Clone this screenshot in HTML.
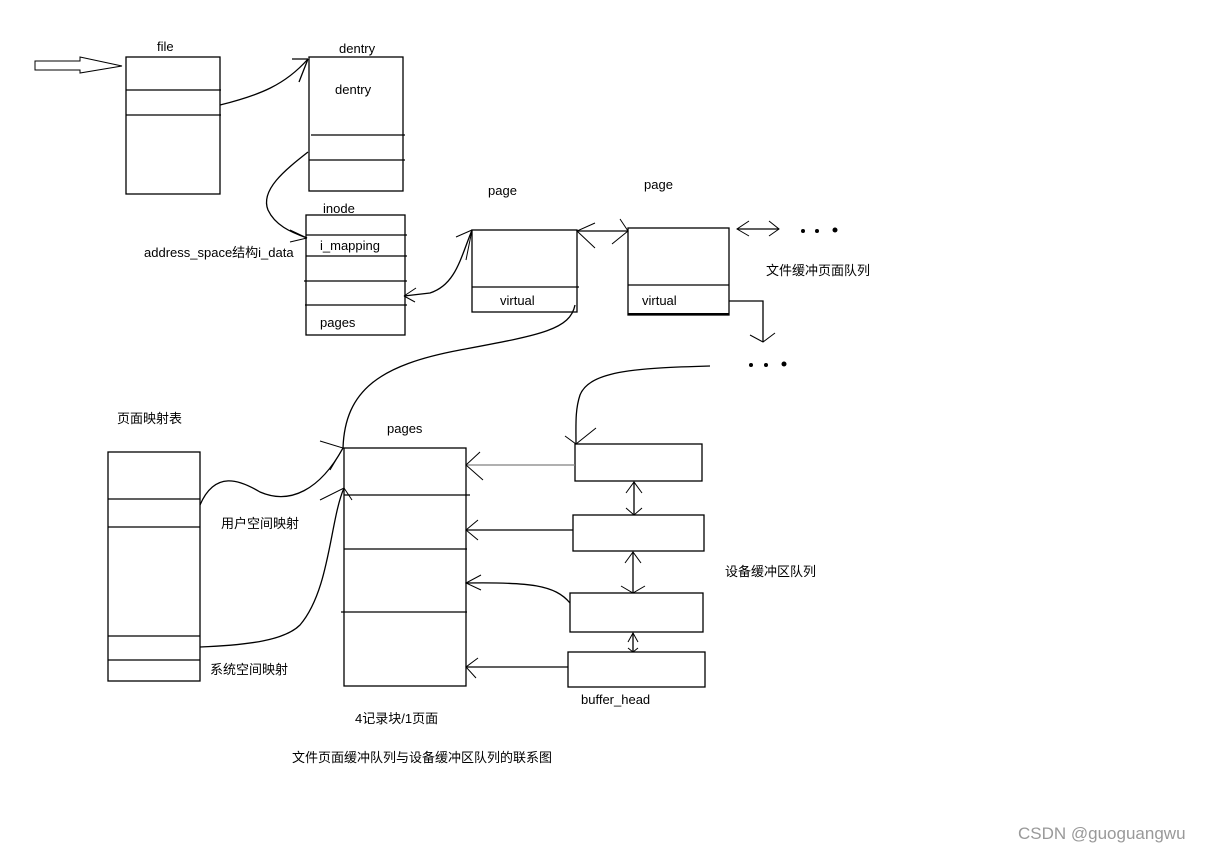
<!DOCTYPE html>
<html><head><meta charset="utf-8"><style>
html,body{margin:0;padding:0;background:#fff}
svg text{font-family:"Liberation Sans","Noto Sans CJK SC",sans-serif;font-size:13px;fill:#000}
</style></head><body>
<svg width="1220" height="853" viewBox="0 0 1220 853" xmlns="http://www.w3.org/2000/svg">
<g fill="none" stroke="#000" stroke-width="1.3">
<!-- hollow arrow -->
<polygon points="35,61 80,61 80,57 122,66 80,73 80,70 35,70" stroke-width="1"/>
<!-- file -->
<rect x="126" y="57" width="94" height="137"/>
<line x1="126" y1="90" x2="221" y2="90"/><line x1="126" y1="115" x2="221" y2="115"/>
<!-- dentry -->
<rect x="309" y="57" width="94" height="134"/>
<line x1="311" y1="135" x2="405" y2="135"/><line x1="309" y1="160" x2="405" y2="160"/>
<path d="M220,105 C260,95 285,85 308,59"/><path d="M292,59 L308,59 M308,59 L299,82"/>
<!-- dentry->inode -->
<path d="M308,152 C285,170 260,190 268,210 C275,225 290,232 307,238"/>
<path d="M307,238 L290,230 M307,238 L290,242" stroke-width="1"/>
<!-- inode -->
<rect x="306" y="215" width="99" height="120"/>
<line x1="306" y1="235" x2="407" y2="235"/><line x1="306" y1="256" x2="407" y2="256"/>
<line x1="304" y1="281" x2="407" y2="281"/><line x1="305" y1="305" x2="407" y2="305"/>
<!-- page1 -->
<rect x="472" y="230" width="105" height="82"/>
<line x1="472" y1="287" x2="579" y2="287"/>
<path d="M472,230 C460,260 455,285 430,293 L404,296"/>
<path d="M404,296 L416,288 M404,296 L415,302" stroke-width="1"/>
<path d="M472,230 L456,237 M472,230 L466,260" stroke-width="1"/>
<!-- page2 -->
<rect x="628" y="228" width="101" height="87"/>
<line x1="628" y1="285" x2="729" y2="285"/><line x1="628" y1="314" x2="729" y2="314" stroke-width="2"/>
<line x1="577" y1="231" x2="628" y2="231"/>
<path d="M595,223 L577,231 L595,248 M620,219 L628,231 L612,244" stroke-width="1"/>
<line x1="737" y1="229" x2="779" y2="229"/>
<path d="M749,221 L737,229 L749,236 M769,221 L779,229 L769,236" stroke-width="1"/>
<path d="M729,301 L763,301 L763,342"/>
<path d="M750,335 L763,342 L775,333" stroke-width="1"/>
<!-- page1 virtual -> pages -->
<path d="M575,305 C570,330 540,335 460,350 C380,365 345,390 343,448"/>
<!-- ... -> buffer1 -->
<path d="M710,366 C640,368 590,370 580,395 C575,410 576,425 576,444"/>
<path d="M565,436 L576,444 L596,428" stroke-width="1"/>
<!-- pages -->
<rect x="344" y="448" width="122" height="238"/>
<line x1="344" y1="495" x2="470" y2="495"/><line x1="344" y1="549" x2="467" y2="549"/>
<line x1="341" y1="612" x2="467" y2="612"/>
<!-- mapping table -->
<rect x="108" y="452" width="92" height="229"/>
<line x1="108" y1="499" x2="200" y2="499"/><line x1="108" y1="527" x2="200" y2="527"/>
<line x1="108" y1="636" x2="200" y2="636"/><line x1="108" y1="660" x2="200" y2="660"/>
<path d="M200,505 C215,470 240,480 260,492 C290,505 320,490 343,448"/>
<path d="M320,441 L343,448 L330,470" stroke-width="1"/>
<path d="M200,647 C250,645 285,640 300,625 C330,590 330,520 344,488"/>
<path d="M320,500 L344,488 L352,500" stroke-width="1"/>
<!-- buffers -->
<rect x="575" y="444" width="127" height="37"/>
<rect x="573" y="515" width="131" height="36"/>
<rect x="570" y="593" width="133" height="39"/>
<rect x="568" y="652" width="137" height="35"/>
<line x1="466" y1="465" x2="575" y2="465" stroke="#808080"/>
<path d="M480,452 L466,465 L483,480" stroke-width="1"/>
<line x1="466" y1="530" x2="573" y2="530"/>
<path d="M478,520 L466,530 L478,540" stroke-width="1"/>
<path d="M466,583 C530,582 555,585 570,603"/>
<path d="M481,575 L466,583 L481,590" stroke-width="1"/>
<line x1="466" y1="667" x2="568" y2="667"/>
<path d="M478,658 L466,667 L476,678" stroke-width="1"/>
<line x1="634" y1="482" x2="634" y2="515"/>
<path d="M626,493 L634,482 L642,493 M626,508 L634,515 L642,508" stroke-width="1"/>
<line x1="633" y1="552" x2="633" y2="593"/>
<path d="M625,563 L633,552 L641,563 M621,586 L633,593 L645,586" stroke-width="1"/>
<line x1="633" y1="633" x2="633" y2="652"/>
<path d="M628,642 L633,633 L638,642 M628,648 L633,652 L638,648" stroke-width="1"/>
</g>
<g fill="#000">
<circle cx="803" cy="231" r="2"/><circle cx="817" cy="231" r="2"/><circle cx="835" cy="230" r="2.5"/>
<circle cx="751" cy="365" r="2"/><circle cx="766" cy="365" r="2"/><circle cx="784" cy="364" r="2.5"/>
</g>
<text x="157" y="51">file</text>
<text x="339" y="53">dentry</text>
<text x="335" y="94">dentry</text>
<text x="323" y="213">inode</text>
<text x="320" y="250">i_mapping</text>
<text x="320" y="327">pages</text>
<text x="144" y="257">address_space结构i_data</text>
<text x="488" y="195">page</text>
<text x="644" y="189">page</text>
<text x="500" y="305">virtual</text>
<text x="642" y="305">virtual</text>
<text x="766" y="275">文件缓冲页面队列</text>
<text x="117" y="423">页面映射表</text>
<text x="387" y="433">pages</text>
<text x="221" y="528">用户空间映射</text>
<text x="210" y="674">系统空间映射</text>
<text x="725" y="576">设备缓冲区队列</text>
<text x="581" y="704">buffer_head</text>
<text x="355" y="723">4记录块/1页面</text>
<text x="292" y="762">文件页面缓冲队列与设备缓冲区队列的联系图</text>
<text x="1018" y="839" style="font-size:17px;fill:#999">CSDN @guoguangwu</text>
</svg>
</body></html>
